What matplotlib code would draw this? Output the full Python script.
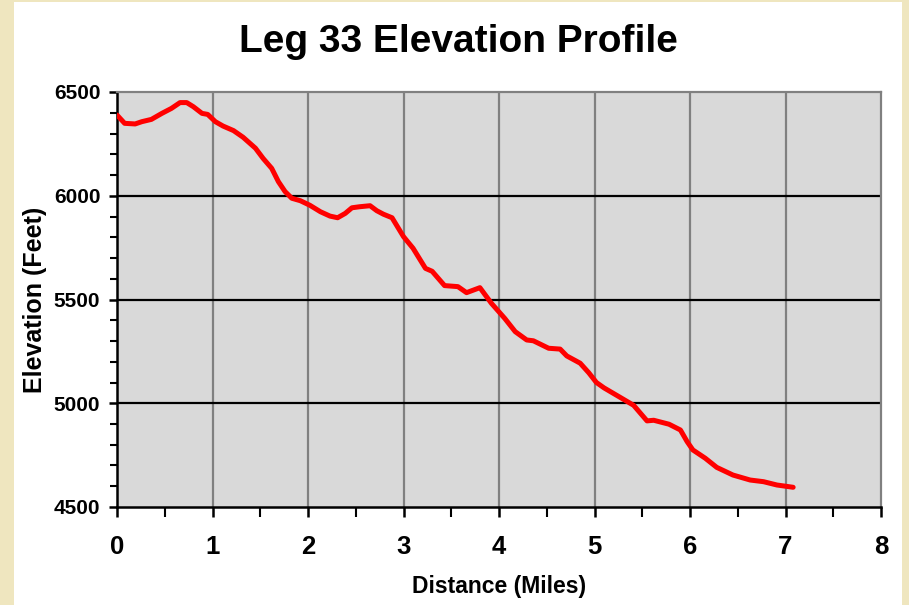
import matplotlib.pyplot as plt
from matplotlib.patches import Rectangle
from matplotlib.ticker import MultipleLocator

# distance (miles) and elevation (feet)
miles = [0.00, 0.08, 0.19, 0.26, 0.36, 0.47, 0.57, 0.66, 0.73, 0.80, 0.89, 0.95,
         1.03, 1.11, 1.22, 1.32, 1.45, 1.53, 1.62, 1.69, 1.76, 1.83, 1.92, 2.02,
         2.13, 2.23, 2.31, 2.39, 2.46, 2.54, 2.65, 2.72, 2.79, 2.88, 3.00, 3.10,
         3.23, 3.30, 3.43, 3.57, 3.66, 3.80, 3.92, 4.06, 4.17, 4.29, 4.36, 4.52,
         4.64, 4.71, 4.85, 4.94, 5.02, 5.10, 5.27, 5.41, 5.55, 5.62, 5.78, 5.90,
         5.97, 6.03, 6.16, 6.28, 6.45, 6.63, 6.77, 6.91, 7.08]
elev = [6389, 6349, 6346, 6357, 6368, 6397, 6421, 6449, 6449, 6429, 6397, 6392,
        6357, 6336, 6314, 6282, 6229, 6180, 6132, 6068, 6020, 5988, 5976, 5954,
        5923, 5902, 5894, 5915, 5942, 5947, 5952, 5928, 5911, 5894, 5803, 5747,
        5650, 5636, 5567, 5562, 5533, 5557, 5482, 5409, 5345, 5305, 5301, 5265,
        5261, 5228, 5193, 5147, 5100, 5074, 5028, 4990, 4915, 4918, 4899, 4871,
        4815, 4775, 4735, 4691, 4654, 4630, 4622, 4606, 4595]

title = "Leg 33 Elevation Profile"
xlabel = "Distance (Miles)"
ylabel = "Elevation (Feet)"

plt.rcParams['font.family'] = ['Liberation Sans', 'DejaVu Sans']
plt.rcParams['font.weight'] = 'bold'

fig = plt.figure(figsize=(9.09, 6.05), dpi=100)
fig.patch.set_facecolor('#efe6bf')
# white chart panel on the parchment
fig.patches.append(Rectangle((14/909, 0), 888/909, 603/605, transform=fig.transFigure,
                             facecolor='white', edgecolor='none', zorder=-5))

ax = fig.add_axes([117/909, 1-507/605, 764/909, 415/605])
ax.set_facecolor('#d9d9d9')

ax.plot(miles, elev, color='#ff0000', lw=3.6, solid_joinstyle='round',
        solid_capstyle='round', zorder=3)

ax.set_xlim(0, 8)
ax.set_ylim(4500, 6500)
ax.xaxis.set_major_locator(MultipleLocator(1))
ax.xaxis.set_minor_locator(MultipleLocator(0.5))
ax.yaxis.set_major_locator(MultipleLocator(500))
ax.yaxis.set_minor_locator(MultipleLocator(100))

# grid: grey verticals, black horizontals
for xv in range(1, 8):
    ax.axvline(xv, color='#808080', lw=1.6, zorder=1)
for yv in [5000, 5500, 6000]:
    ax.axhline(yv, color='black', lw=1.6, zorder=2)

for s in ['left', 'bottom']:
    ax.spines[s].set_color('black')
    ax.spines[s].set_linewidth(1.8)
for s in ['top', 'right']:
    ax.spines[s].set_color('#808080')
    ax.spines[s].set_linewidth(1.6)

ax.tick_params(axis='y', which='major', direction='out', length=6, width=1.8,
               labelsize=15, pad=6)
ax.tick_params(axis='y', which='minor', direction='out', length=5, width=1.5)
ax.tick_params(axis='x', which='major', direction='out', length=7, width=1.8,
               labelsize=18.5, pad=13)
ax.tick_params(axis='x', which='minor', direction='out', length=7, width=1.5)
for lab in ax.get_xticklabels() + ax.get_yticklabels():
    lab.set_fontweight('bold')

ax.set_xlabel(xlabel, fontsize=16.5, fontweight='bold', labelpad=12)
ax.set_ylabel(ylabel, fontsize=18, fontweight='bold', labelpad=5)

fig.text(458/909, 1-52/605, title, ha='center', va='baseline',
         fontsize=28, fontweight='bold')

fig.savefig('out.png', dpi=100, facecolor=fig.get_facecolor())
